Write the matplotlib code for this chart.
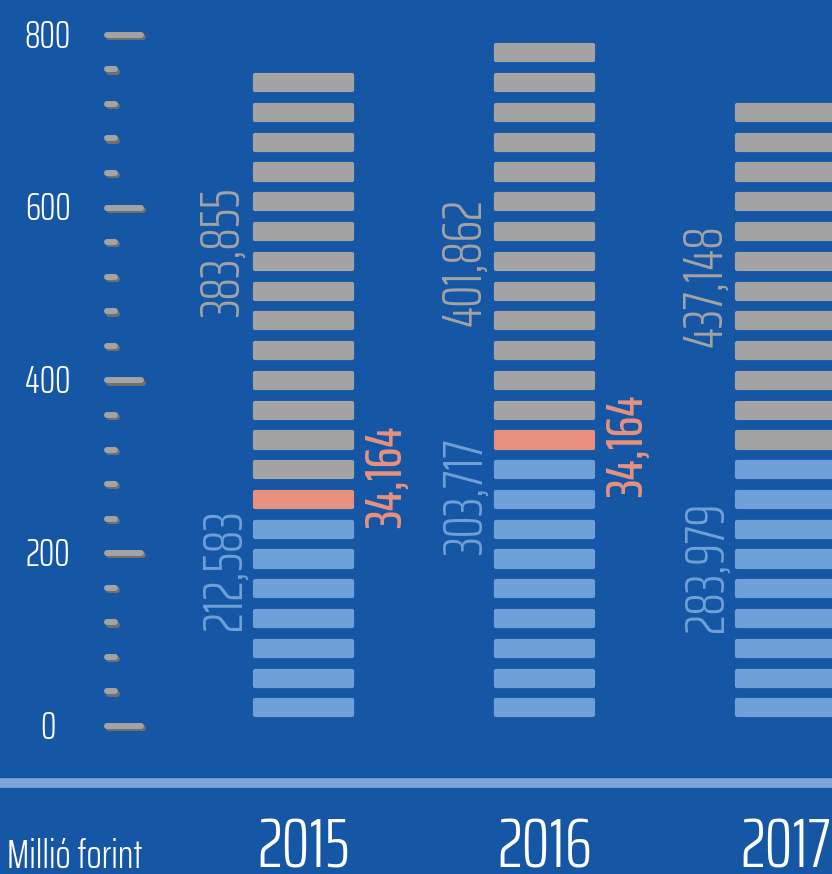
import matplotlib
matplotlib.use("Agg")
import matplotlib.pyplot as plt
import matplotlib.patheffects as pe
from matplotlib.transforms import offset_copy

# --- data ---
years = ["2015", "2016", "2017"]
blue_segments = [7, 9, 9]      # light blue blocks per year
red_segments = [1, 1, 0]       # salmon blocks per year
grey_segments = [14, 13, 12]   # grey blocks per year
blue_labels = ["212,583", "303,717", "283,979"]
red_labels = ["34,164", "34,164", None]
grey_labels = ["383,855", "401,862", "437,148"]
major_ticks = [0, 200, 400, 600, 800]
minor_ticks = [v for v in range(40, 800, 40) if v % 200]
unit_label = "Millió forint"

# --- style ---
BG = "#1657a5"
BLUE = "#6fa0d8"
RED = "#e8917f"
GREY = "#a3a3a3"
LINE = "#7fa6d8"

UNIT = 34.46       # segment pitch in axis units
SEG_H = 17.5       # inner block height (edge adds the rounding)
SEG_OFF = 12.2     # first block bottom
BAR_W = 0.40

FAMILY = ["Saira ExtraCondensed", "Oswald", "DejaVu Sans"]
FONT = dict(family=FAMILY, fontweight=300)

fig = plt.figure(figsize=(8.32, 8.74), dpi=100)
fig.patch.set_facecolor(BG)
ax = fig.add_axes([0, 0, 1, 1])
ax.set_facecolor(BG)
ax.set_xlim(-1.259, 2.193)
ax.set_ylim(-171.3, 840.3)
ax.axis("off")

# --- stacked block bars ---
for i, year in enumerate(years):
    k = 0
    for count, color in ((blue_segments[i], BLUE), (red_segments[i], RED), (grey_segments[i], GREY)):
        for _ in range(count):
            ax.bar(i, SEG_H, width=BAR_W, bottom=SEG_OFF + k * UNIT, color=color,
                   edgecolor=color, linewidth=3.0, joinstyle="round")
            k += 1

# --- value labels ---
grey_y = [548, 537, 510]
blue_y = [181, 265, 184]
red_y = [288, 324, None]
for i in range(len(years)):
    ax.text(i - 0.33, grey_y[i], grey_labels[i], rotation=90, color=GREY,
            fontsize=40, ha="center", va="center", **FONT)
    ax.text(i - 0.325, blue_y[i], blue_labels[i], rotation=90, color=BLUE,
            fontsize=40, ha="center", va="center", **FONT)
    if red_labels[i]:
        ax.text(i + 0.345, red_y[i], red_labels[i], rotation=90, color=RED,
                fontsize=38, family=FAMILY, fontweight=500, ha="center", va="center")

# --- hand-drawn style axis ticks ---
shadow = [pe.SimpleLineShadow(offset=(1.6, -1.6), shadow_color="#707070", alpha=1.0), pe.Normal()]
tick_font = 28
tick_tr = offset_copy(ax.transData, fig=fig, y=-0.33 * tick_font, units="points")
for v in major_ticks:
    ax.plot([-0.815, -0.674], [v, v], color=GREY, lw=4.3, solid_capstyle="round",
            path_effects=shadow)
    ax.text(-1.06, v, str(v), color="white", fontsize=tick_font, ha="center", va="baseline",
            transform=tick_tr, **FONT)
for v in minor_ticks:
    ax.plot([-0.815, -0.782], [v, v], color=GREY, lw=4.3, solid_capstyle="round",
            path_effects=shadow)

# --- baseline and year labels ---
ax.plot([-1.3, 2.3], [-66, -66], color=LINE, lw=7, solid_capstyle="butt")
for i, year in enumerate(years):
    ax.text(i, -164, year, color="white", fontsize=50, ha="center", va="baseline", **FONT)
ax.text(-1.228, -164, unit_label, color="white", fontsize=29, ha="left", va="baseline", **FONT)

fig.savefig("out.png", dpi=100, facecolor=BG)
